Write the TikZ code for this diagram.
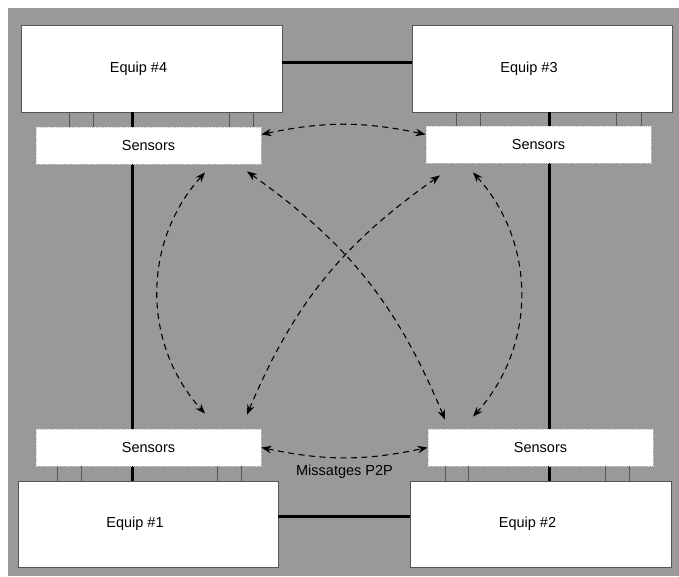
\documentclass[tikz,border=0pt]{standalone}
\usepackage{fontspec}
\setmainfont{Liberation Sans}
\usetikzlibrary{arrows.meta}
\definecolor{bggray}{RGB}{153,153,153}
\definecolor{edgegray}{RGB}{85,85,85}
\definecolor{dotgray}{RGB}{205,205,205}

\begin{document}
\begin{tikzpicture}[x=1pt,y=-1pt,font=\fontsize{14.5}{17}\selectfont,
  equip/.style={draw=edgegray,fill=white,line width=0.8pt,inner sep=0pt,minimum height=87pt,execute at end node={\hspace*{26pt}}},
  sens/.style={draw=dotgray,densely dotted,fill=white,line width=0.8pt,inner sep=0pt,minimum width=225pt,minimum height=37pt},
  bus/.style={line width=3pt},
  pin/.style={draw=edgegray,line width=0.8pt},
  msg/.style={dash pattern=on 6pt off 4.5pt,line width=1.1pt,{Stealth[length=10pt,width=7.5pt]}-{Stealth[length=10pt,width=7.5pt]}}]
\useasboundingbox (0,0) rectangle (679,576);
\fill[bggray] (8,8) rectangle (679,576);
% equips
\node[equip,minimum width=261pt] (e4) at (151.5,68.5) {Equip \#4};
\node[equip,minimum width=260pt] (e3) at (542,68.5) {Equip \#3};
\node[equip,minimum width=260pt,minimum height=86pt] (e1) at (148,524) {Equip \#1};
\node[equip,minimum width=261pt,minimum height=86pt] (e2) at (540.5,524) {Equip \#2};
% buses
\draw[bus] ([yshift=6.5pt]e4.east) -- ([yshift=6.5pt]e3.west);
\draw[bus] ([yshift=8pt]e1.east) -- ([yshift=8pt]e2.west);
\draw[bus] (e4.south -| 132,0) -- (e1.north -| 132,0);
\draw[bus] (e3.south -| 549,0) -- (e2.north -| 549,0);
% sensors
\node[sens] (s4) at (148.5,145.5) {Sensors};
\node[sens] (s3) at (538.5,144.5) {Sensors};
\node[sens] (s1) at (148.5,447.5) {Sensors};
\node[sens] (s2) at (540.5,447.5) {Sensors};
% pins
\foreach \x in {69,93,229,253} \draw[pin] (s4.north -| \x,0) -- (e4.south -| \x,0);
\foreach \x in {456,480,616,641} \draw[pin] (s3.north -| \x,0) -- (e3.south -| \x,0);
\foreach \x in {57,81,217,241} \draw[pin] (s1.south -| \x,0) -- (e1.north -| \x,0);
\foreach \x in {445,468,605,629} \draw[pin] (s2.south -| \x,0) -- (e2.north -| \x,0);
% messages
\draw[msg] ([yshift=11pt]s4.east) to[bend left=12] ([yshift=10pt]s3.west);
\draw[msg] (s1.east) to[bend right=12] node[below=3pt] (lbl) {Missatges P2P} (s2.west);
\draw[msg] ([xshift=56.5pt,yshift=-8pt]s4.south) to[bend right=42] ([xshift=56.5pt,yshift=15pt]s1.north);
\draw[msg] ([xshift=-65.5pt,yshift=-9pt]s3.south) to[bend left=42] ([xshift=-67.5pt,yshift=12pt]s2.north);
\draw[msg] ([xshift=98.5pt,yshift=-7pt]s4.south) to[bend left=16] ([xshift=-95.5pt,yshift=9pt]s2.north);
\draw[msg] ([xshift=-98.5pt,yshift=-12pt]s3.south) to[bend right=16] ([xshift=98.5pt,yshift=14pt]s1.north);
\end{tikzpicture}
\end{document}
